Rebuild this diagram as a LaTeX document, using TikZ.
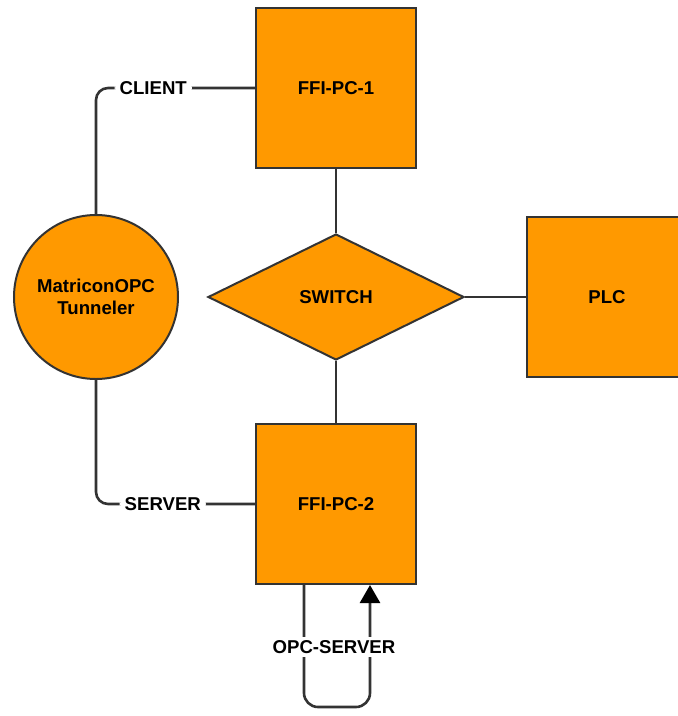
\documentclass[tikz,border=0pt]{standalone}
\usepackage{fontspec}
\setmainfont{Liberation Sans}
\usetikzlibrary{shapes.geometric,arrows.meta}
\definecolor{orng}{HTML}{FF9900}
\definecolor{wirec}{HTML}{333333}
\begin{document}
\begin{tikzpicture}[x=1pt,y=-1pt,
  shp/.style={draw=wirec,line width=2pt,fill=orng,inner sep=0pt,font=\bfseries\fontsize{18.6}{22}\selectfont},
  box/.style={shp,rectangle,minimum size=160pt},
  wire/.style={draw=wirec,line width=2.6pt},
  lbl/.style={fill=white,inner xsep=5pt,inner ysep=3pt,font=\bfseries\fontsize{18.6}{22}\selectfont}]
\useasboundingbox (0,0) rectangle (678,716);
\node [box] (pc1) at (336,88) {FFI-PC-1};
\node [shp,diamond,minimum width=256pt,minimum height=126pt] (sw) at (336,297) {SWITCH};
\node [box] (plc) at (607,297) {PLC};
\node [box] (pc2) at (336,504) {FFI-PC-2};
\node [shp,circle,minimum size=164pt,align=center] (opc) at (96,297) {MatriconOPC\\Tunneler};

\draw [wire] (pc1) -- (sw);
\draw [wire] (sw) -- (pc2);
\draw [wire] (sw) -- (plc);
\draw [wire,rounded corners=12pt] (opc.north) |- node [lbl,pos=0.68] (client) {CLIENT} (pc1.west);
\draw [wire,rounded corners=12pt] (opc.south) |- node [lbl,pos=0.71] (server) {SERVER} (pc2.west);
% loop back into FFI-PC-2
\draw [wire,rounded corners=14pt,-{Triangle[width=20pt,length=18pt,color=black]}]
  ([xshift=-32pt]pc2.south) -- ++(0,122) -| ([xshift=34pt]pc2.south);
\node [lbl] (opcsrv) at (334,647) {OPC-SERVER};
\end{tikzpicture}
\end{document}
